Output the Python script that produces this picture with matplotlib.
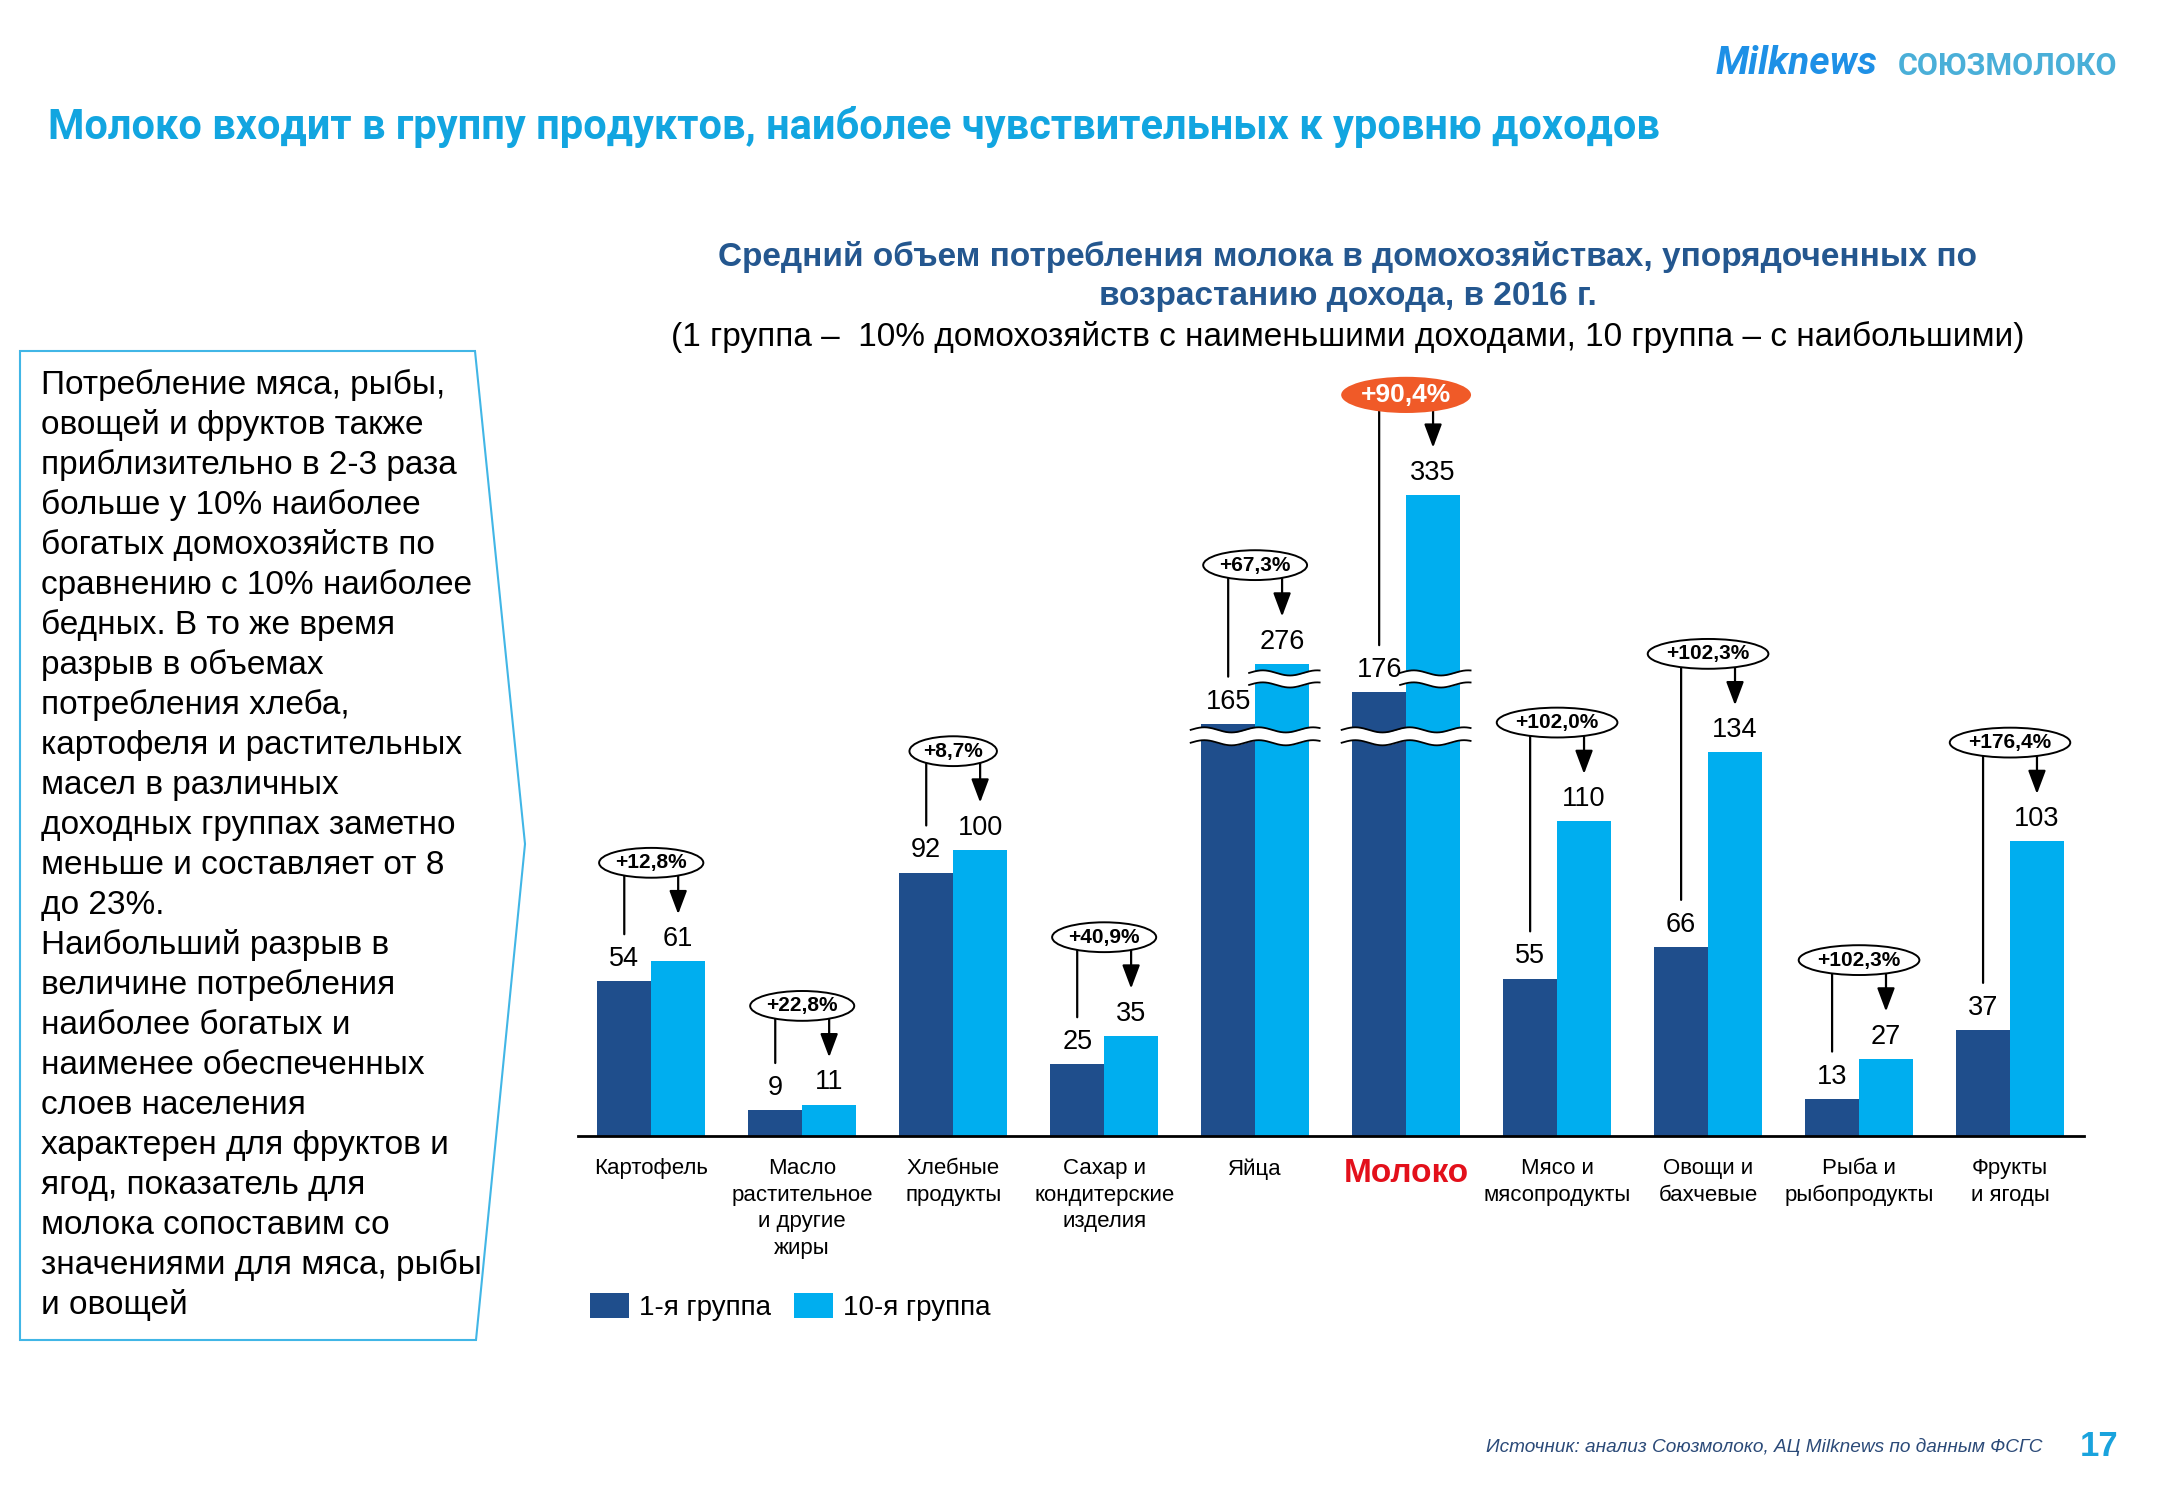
import numpy as np
import matplotlib
matplotlib.use('Agg')
import matplotlib.pyplot as plt
from matplotlib.patches import Polygon
from matplotlib.transforms import ScaledTranslation

plt.rcParams['font.family'] = ['Liberation Sans', 'DejaVu Sans']

# данные
categories = ['Картофель', 'Масло\nрастительное\nи другие\nжиры', 'Хлебные\nпродукты',
              'Сахар и\nкондитерские\nизделия', 'Яйца', 'Молоко', 'Мясо и\nмясопродукты',
              'Овощи и\nбахчевые', 'Рыба и\nрыбопродукты', 'Фрукты\nи ягоды']
group_1 = [54, 9, 92, 25, 165, 176, 55, 66, 13, 37]
group_10 = [61, 11, 100, 35, 276, 335, 110, 134, 27, 103]
growth = ['+12,8%', '+22,8%', '+8,7%', '+40,9%', '+67,3%', '+90,4%',
          '+102,0%', '+102,3%', '+102,3%', '+176,4%']
broken = [4, 5]   # Яйца, Молоко - столбцы с разрывом
highlight = 5     # Молоко

text_lines = [
    'Потребление мяса, рыбы,', 'овощей и фруктов также', 'приблизительно в 2-3 раза',
    'больше у 10% наиболее', 'богатых домохозяйств по', 'сравнению с 10% наиболее',
    'бедных. В то же время', 'разрыв в объемах', 'потребления хлеба,',
    'картофеля и растительных', 'масел в различных', 'доходных группах заметно',
    'меньше и составляет от 8', 'до 23%.', 'Наибольший разрыв в',
    'величине потребления', 'наиболее богатых и', 'наименее обеспеченных',
    'слоев населения', 'характерен для фруктов и', 'ягод, показатель для',
    'молока сопоставим со', 'значениями для мяса, рыбы', 'и овощей',
]

DARK = '#1F4E8C'
LIGHT = '#00AEEF'
CYAN = '#12A5E0'

# разрыв оси: значение -> видимая высота
knots_val = [-1000, 137, 163, 178, 272, 1000]
knots_vis = [-1000, 137, 142, 157, 161, 889]


def fwd(v):
    return np.interp(v, knots_val, knots_vis)


def inv(d):
    return np.interp(d, knots_vis, knots_val)


W, H = 2167, 1500
fig = plt.figure(figsize=(W / 100, H / 100), dpi=100)


def fx(x):
    return x / W


def fy(y):
    return 1 - y / H


ax = fig.add_axes([fx(578), fy(1136), fx(2084) - fx(578), 830 / H])
ax.set_yscale('function', functions=(fwd, inv))

x = np.arange(len(categories))
w = 0.357
b1 = ax.bar(x - w / 2, group_1, w, color=DARK, zorder=2)
b10 = ax.bar(x + w / 2, group_10, w, color=LIGHT, zorder=2)

ax.set_xlim(-0.485, 9.49)
ax.set_ylim(0, inv(290))
ax.set_yticks([])
for s in ['top', 'left', 'right']:
    ax.spines[s].set_visible(False)
ax.spines['bottom'].set_linewidth(2)
ax.set_xticks(x)
ax.set_xticklabels(categories, fontsize=16, linespacing=1.34)
ax.tick_params(axis='x', length=0, pad=16)
lbl = ax.get_xticklabels()[highlight]
lbl.set_fontsize(24)
lbl.set_fontweight('bold')
lbl.set_color('#E3101B')


# волнистые линии разрыва
def wave(x0, x1, d_lo, d_hi):
    xs = np.linspace(x0, x1, 300)
    rip = 0.9 * np.sin(2 * np.pi * (xs - x0) / 0.36)
    ax.fill_between(xs, inv(d_lo + rip), inv(d_hi + rip), color='white', lw=0, zorder=3)
    ax.plot(xs, inv(d_lo + rip), color='black', lw=1.3, zorder=4)
    ax.plot(xs, inv(d_hi + rip), color='black', lw=1.3, zorder=4)


for i in broken:
    wave(i - w - 0.07, i + w + 0.07, 137.4, 141.9)
    wave(i - 0.04, i + w + 0.07, 157.6, 161.8)


def up(pt):
    return ax.transData + ScaledTranslation(0, pt / 72, fig.dpi_scale_trans)


for i in range(len(categories)):
    xd, xl = i - w / 2, i + w / 2
    a, b = group_1[i], group_10[i]
    ax.annotate(str(a), (xd, a), xytext=(0, 16), textcoords='offset points',
                ha='center', va='center', fontsize=19.5, zorder=5)
    ax.annotate(str(b), (xl, b), xytext=(0, 16), textcoords='offset points',
                ha='center', va='center', fontsize=19.5, zorder=5)
    # линия от овала к 1-й группе и стрелка к 10-й
    ax.annotate('', xy=(xd, a), xycoords=up(34), xytext=(xd, b), textcoords=up(66),
                arrowprops=dict(arrowstyle='-', lw=1.6, color='black',
                                shrinkA=0, shrinkB=0), zorder=3)
    ax.annotate('', xy=(xl, b), xycoords=up(34), xytext=(xl, b), textcoords=up(66),
                arrowprops=dict(arrowstyle='-|>,head_length=0.8,head_width=0.3',
                                mutation_scale=18, lw=1.6, color='black',
                                shrinkA=0, shrinkB=0), zorder=3)
    if i == highlight:
        ax.annotate(growth[i], (i, b), xytext=(0, 72), textcoords='offset points',
                    ha='center', va='center', fontsize=19, fontweight='bold', color='white',
                    bbox=dict(boxstyle='ellipse,pad=0.03', fc='#F05A28', ec='none'), zorder=6)
    else:
        ax.annotate(growth[i], (i, b), xytext=(0, 71), textcoords='offset points',
                    ha='center', va='center', fontsize=15, fontweight='bold',
                    bbox=dict(boxstyle='ellipse,pad=0.05', fc='white', ec='black', lw=1.4),
                    zorder=6)

fig.legend([b1, b10], ['1-я группа', '10-я группа'], loc='center left',
           bbox_to_anchor=(fx(590), fy(1307)), ncol=2, frameon=False, fontsize=20,
           handlelength=1.4, handleheight=1.0, handletextpad=0.35, columnspacing=0.85,
           borderpad=0, borderaxespad=0)

# заголовки
fig.text(fx(48), fy(127), 'Молоко входит в группу продуктов, наиболее чувствительных к уровню доходов',
         fontsize=30, fontweight='bold', color=CYAN, va='center', family='Roboto')
fig.text(fx(1716), fy(63), 'Milknews', fontsize=28, fontweight='bold', style='italic',
         color='#1E90E6', va='center', family='Roboto')
fig.text(fx(1898), fy(66), 'СОЮЗМОЛОКО', fontsize=22, fontweight='bold',
         color='#4AAFD8', va='center', family='Roboto')

fig.text(fx(1348), fy(257), 'Средний объем потребления молока в домохозяйствах, упорядоченных по',
         ha='center', va='center', fontsize=24, fontweight='bold', color='#24578F')
fig.text(fx(1348), fy(296), 'возрастанию дохода, в 2016 г.',
         ha='center', va='center', fontsize=24, fontweight='bold', color='#24578F')
fig.text(fx(1348), fy(337),
         '(1 группа –  10% домохозяйств с наименьшими доходами, 10 группа – с наибольшими)',
         ha='center', va='center', fontsize=24, color='black')

# текстовый блок слева
box = Polygon([(fx(20), fy(351)), (fx(475), fy(351)), (fx(525), fy(844)),
               (fx(476), fy(1340)), (fx(20), fy(1340))], closed=True,
              transform=fig.transFigure, fill=False, ec='#41B6E6', lw=1.5)
fig.patches.append(box)
for k, line in enumerate(text_lines):
    fig.text(fx(41), fy(394 + 40 * k), line, fontsize=24, va='baseline', color='black')

fig.text(fx(2043), fy(1447), 'Источник: анализ Союзмолоко, АЦ Milknews по данным ФСГС',
         ha='right', va='center', fontsize=13.7, style='italic', color='#2B4A78')
fig.text(fx(2099), fy(1447), '17', ha='center', va='center', fontsize=25,
         fontweight='bold', color='#1AA3DD')

fig.savefig('out.png', dpi=100)
